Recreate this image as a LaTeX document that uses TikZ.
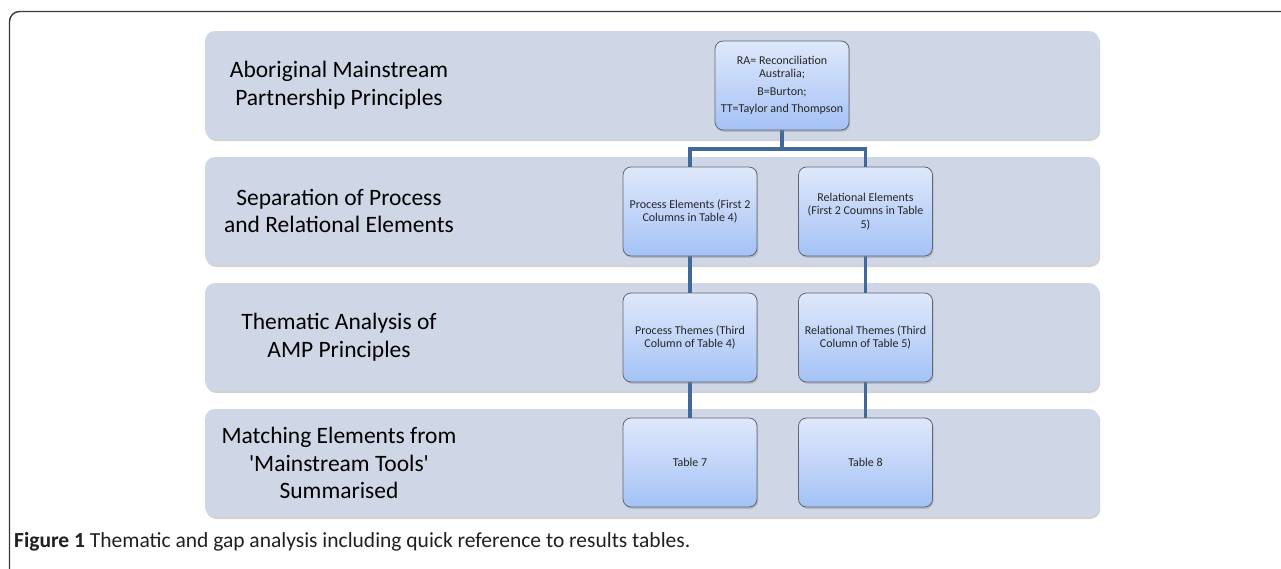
\documentclass[tikz,border=0pt]{standalone}
\usepackage{fontspec}
% plain family without TeX ligature mapping, so ' stays a straight quote
\newfontfamily\carlito{Carlito}
\usetikzlibrary{shadows}
\definecolor{bandfill}{HTML}{CFD6E5}
\definecolor{boxtop}{HTML}{DFE8FB}
\definecolor{boxbot}{HTML}{A4C2F6}
\definecolor{boxline}{HTML}{5F6672}
\definecolor{linkblue}{HTML}{41699C}
\definecolor{framegray}{HTML}{3A3A3A}
\definecolor{captiongray}{HTML}{231F20}

\begin{document}
\begin{tikzpicture}[x=1pt,y=-1pt,
  band/.style={fill=bandfill, draw=none, rounded corners=10pt,
    minimum width=894pt, minimum height=108pt, inner sep=0pt,
    drop shadow={shadow xshift=1.2pt, shadow yshift=-2pt, opacity=0.35}},
  bandlabel/.style={align=center, font=\carlito\fontsize{23.5}{27.5}\selectfont, text=black},
  stepbox/.style={draw=boxline, line width=0.8pt, rounded corners=8pt,
    top color=boxtop, bottom color=boxbot,
    minimum width=134pt, minimum height=89pt, inner sep=2pt,
    align=center, font=\carlito\fontsize{12}{13.5}\selectfont, text=black!85,
    drop shadow={shadow xshift=1.2pt, shadow yshift=-1.8pt, opacity=0.35}},
  link/.style={draw=linkblue, line width=3.6pt}]

\useasboundingbox (0,0) rectangle (1281,568);
\clip (0,0) rectangle (1281,568);
\fill[white] (0,0) rectangle (1281,568);

% outer figure frame (runs past the page on the right and bottom)
\draw[framegray, line width=1.4pt, rounded corners=10pt] (9.5,11.5) rectangle (1320,620);

% horizontal bands
\node[band] (b1) at (652,85) {};
\node[band] (b2) at (652,211) {};
\node[band] (b3) at (652,337) {};
\node[band] (b4) at (652,463) {};

\node[bandlabel] (l1) at (339,85) {Aboriginal Mainstream\\Partnership Principles};
\node[bandlabel] (l2) at (339,211) {Separation of Process\\and Relational Elements};
\node[bandlabel] (l3) at (339,337) {Thematic Analysis of\\AMP Principles};
\node[bandlabel] (l4) at (339,463) {Matching Elements from\\'Mainstream Tools'\\Summarised};

% connectors
\coordinate (j) at (782,149);
\coordinate (top) at (782,85.5);
\coordinate (pe0) at (690,211.5);
\coordinate (re0) at (865.5,211.5);
\draw[link] (top) -- (j);
\draw[link] (pe0) |- (j) -| (re0);
\draw[link] (690,211.5) -- (690,462.5);
\draw[link] (865.5,211.5) -- (865.5,462.5);

% boxes
\node[stepbox] (ra) at (782,85.5) {RA= Reconciliation\\Australia;\\[4pt]B=Burton;\\[4pt]TT=Taylor and Thompson};
\node[stepbox] (pe) at (690,211.5) {Process Elements (First 2\\Columns in Table 4)};
\node[stepbox] (re) at (865.5,211.5) {Relational Elements\\(First 2 Coumns in Table\\5)};
\node[stepbox] (pt) at (690,337.5) {Process Themes (Third\\Column of Table 4)};
\node[stepbox] (rt) at (865.5,337.5) {Relational Themes (Third\\Column of Table 5)};
\node[stepbox] (t7) at (690,462.5) {Table 7};
\node[stepbox] (t8) at (865.5,462.5) {Table 8};

% caption
\node[anchor=base west, inner sep=0pt, text=captiongray, font=\carlito\fontsize{21.5}{24}\selectfont]
  (cap) at (14,547) {\textbf{Figure 1} Thematic and gap analysis including quick reference to results tables.};
\end{tikzpicture}
\end{document}
